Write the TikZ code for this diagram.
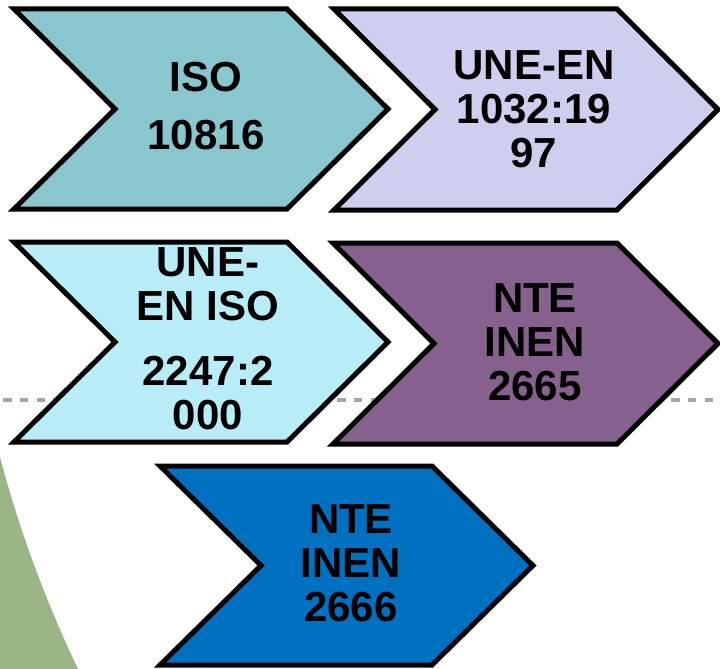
\documentclass[tikz,border=0pt]{standalone}
\usepackage{fontspec}
\setmainfont{Liberation Sans}
\definecolor{cteal}{HTML}{8AC6CE}
\definecolor{clav}{HTML}{CECEEE}
\definecolor{ccyan}{HTML}{B8ECF7}
\definecolor{cpurple}{HTML}{86618E}
\definecolor{cblue}{HTML}{0070C0}
\definecolor{cgreen}{HTML}{9BB587}
\definecolor{cdash}{HTML}{A6A6A6}
\tikzset{
  chev/.style={draw=black, line width=5pt, line join=miter},
  lbl/.style={align=center, font=\fontsize{42}{44}\selectfont\bfseries, inner sep=0pt, text=black},
}
% chevron: x0, y0, width, height, depth
\newcommand{\mychev}[6]{%
  \path[chev, fill=#6] (#1,#2) -- ({#1+#3-#5},#2) -- ({#1+#3},{#2+#4/2}) -- ({#1+#3-#5},{#2+#4}) -- (#1,{#2+#4}) -- ({#1+#5},{#2+#4/2}) -- cycle;}
\begin{document}
\begin{tikzpicture}[x=1pt,y=-1pt]
\useasboundingbox (0,0) rectangle (720,669);
\fill[white] (0,0) rectangle (720,669);
% green background arc
\fill[cgreen] (0,457) .. controls (18.7,528) and (44.3,598) .. (78,669) -- (0,669) -- cycle;
% dashed guide line
\draw[cdash, line width=3.5pt, dash pattern=on 8.3pt off 8.4pt, dash phase=-3.3pt] (0,400) -- (720,400);
% chevrons
\mychev{14}{9}{374}{200}{101}{cteal}
\mychev{334}{9}{384}{201}{101}{clav}
\mychev{14}{242}{374}{200}{101}{ccyan}
\mychev{333}{243}{385}{201}{101}{cpurple}
\mychev{160}{466}{373}{199}{101}{cblue}
% labels
\node[lbl] (t1) at (206,106) {ISO\\[14pt]10816};
\node[lbl] (t2) at (534,109) {UNE-EN\\1032:19\\97};
\node[lbl] (t3) at (208,339) {UNE-\\EN ISO\\[21pt]2247:2\\000};
\node[lbl] (t4) at (535,342) {NTE\\INEN\\2665};
\node[lbl] (t5) at (351,563) {NTE\\INEN\\2666};
\end{tikzpicture}
\end{document}
